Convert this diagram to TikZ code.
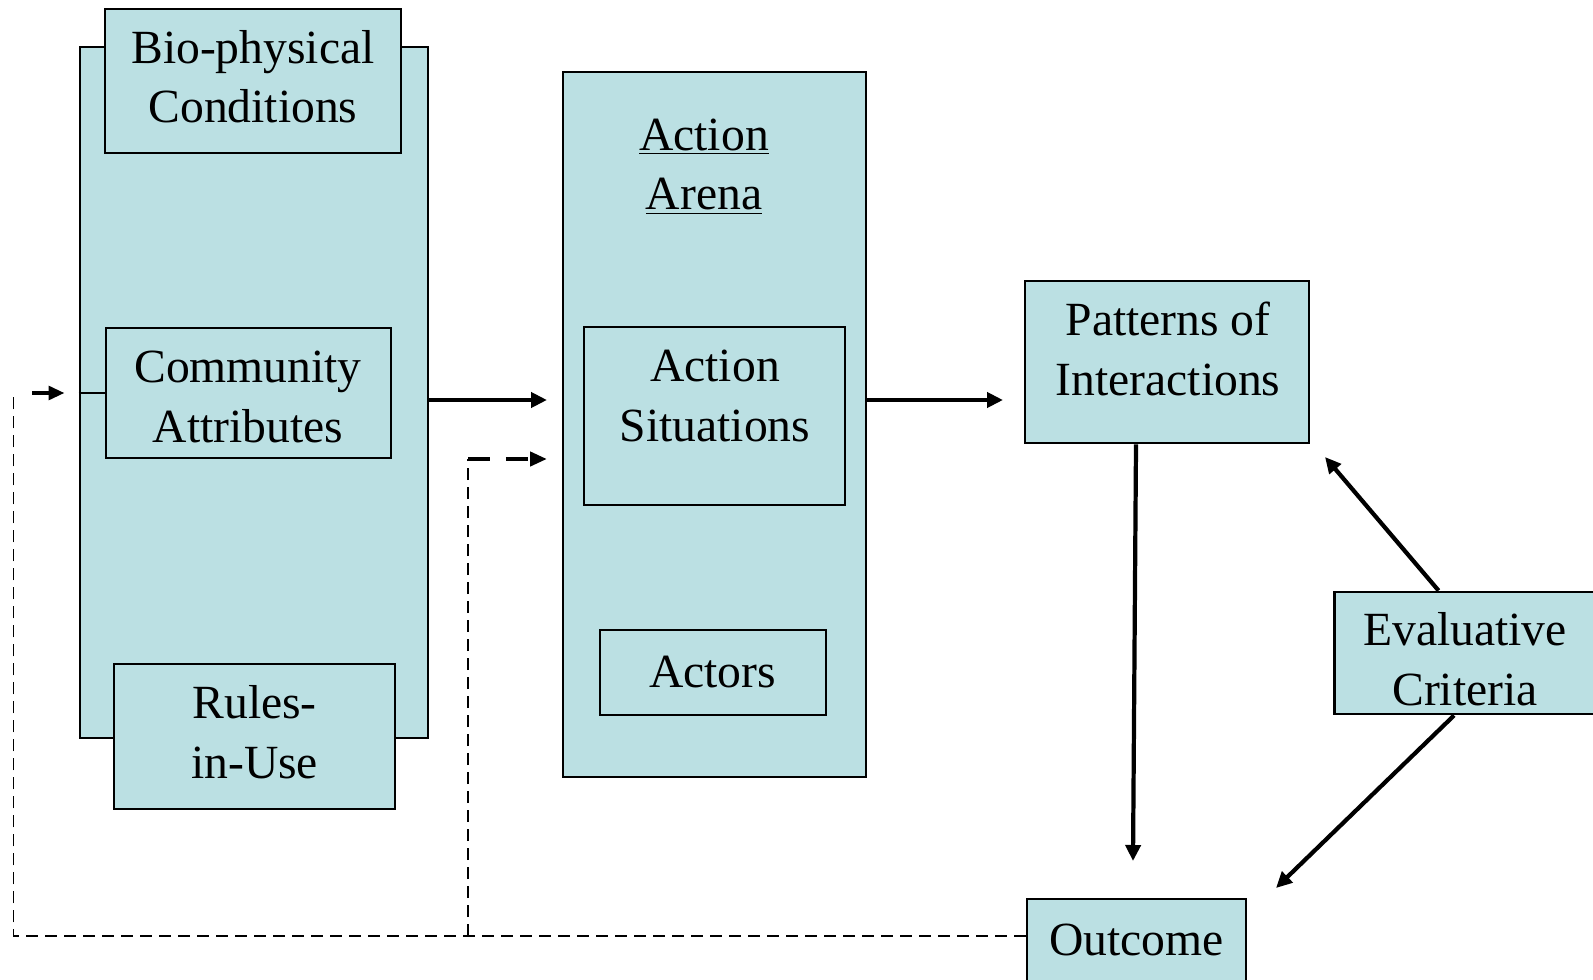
\documentclass[tikz,border=0pt]{standalone}
\usepackage{fontspec}
\setmainfont{Liberation Serif}
\usetikzlibrary{arrows.meta,fit}
\definecolor{boxfill}{RGB}{187,224,227}
\begin{document}
\begin{tikzpicture}[x=0.02cm,y=-0.02cm,
  box/.style={draw=black, fill=boxfill, line width=1.6pt, inner sep=0pt, rectangle},
  lbl/.style={font=\fontsize{27.1pt}{34.1pt}\selectfont, align=center, inner sep=0pt, anchor=base},
  arr/.style={line width=2.4pt, -{Triangle[length=0.32cm,width=0.3cm]}},
  thindash/.style={line width=1.1pt, dash pattern=on 0.24cm off 0.14cm},
  thickdash/.style={line width=2.4pt, dash pattern=on 0.44cm off 0.32cm, -{Triangle[length=0.34cm,width=0.28cm]}}]
\useasboundingbox (0,0) rectangle (1593,980);
\clip (0,0) rectangle (1593,980);
% left column
\node[box, fit={(80,47)(428,738)}] (env) {};
\node[box, fit={(105,9)(401,153)}] (bio) {};
\node[box, fit={(106,328)(391,458)}] (comm) {};
\node[box, fit={(114,664)(395,809)}] (rules) {};
\node[lbl] (biot) at (253,123) {Bio-physical\\Conditions};
\node[lbl] (commt) at (248,442) {Community\\Attributes};
\node[lbl] (rulest) at (254.6,778) {Rules-\\in-Use};
% action arena
\node[box, fit={(563,72)(866,777)}] (arena) {};
\node[box, fit={(584,327)(845,505)}] (sit) {};
\node[box, fit={(600,630)(826,715)}] (actors) {};
\node[lbl] (arenat) at (704,210) {\underline{Action}\\\underline{Arena}};
\node[lbl] (sitt) at (715,441) {Action\\Situations};
\node[lbl] (actt) at (712.5,687) {Actors};
% right side
\node[box, fit={(1025,281)(1309,443)}] (patterns) {};
\node[box, fit={(1334.5,592)(1630,714)}] (eval) {};
\node[box, fit={(1027,899)(1246,1010)}] (outcome) {};
\node[lbl] (patt) at (1168,395) {Patterns of\\Interactions};
\node[lbl] (evalt) at (1465,705) {Evaluative\\Criteria};
\node[lbl] (outt) at (1136.5,955) {Outcome};
% coordinates
\coordinate (a1) at (547,400);
\coordinate (a2) at (1003,400);
\coordinate (po) at (1133,861);
\coordinate (ep) at (1325,457);
\coordinate (eo) at (1276,888);
\coordinate (fbL) at (13.5,936);
\coordinate (fbT) at (13.5,393);
\coordinate (fbM) at (468,936);
\coordinate (fbN) at (468,459);
\coordinate (inA) at (547,459);
\coordinate (sa) at (32,393);
\coordinate (envIn) at (env.west |- comm.west);
% connectors
\draw[line width=1.6pt] (envIn) -- (comm.west);
\draw[arr] (env.east |- a1) -- (a1);
\draw[arr] (arena.east |- a2) -- (a2);
\draw[arr] ([xshift=-0.62cm]patterns.south) -- (po);
\draw[arr] ([xshift=2.11cm]eval.north west) -- (ep);
\draw[arr] ([xshift=2.42cm]eval.south west) -- (eo);
\draw[thindash] (outcome.west |- fbL) -- (fbL) -- (fbT);
\draw[thindash] (fbM) -- (fbN);
\draw[thickdash] (fbN) -- (inA);
\draw[line width=2.4pt, -{Triangle[length=0.32cm,width=0.27cm]}] (sa) -- ([xshift=-0.28cm]envIn);
\end{tikzpicture}
\end{document}
